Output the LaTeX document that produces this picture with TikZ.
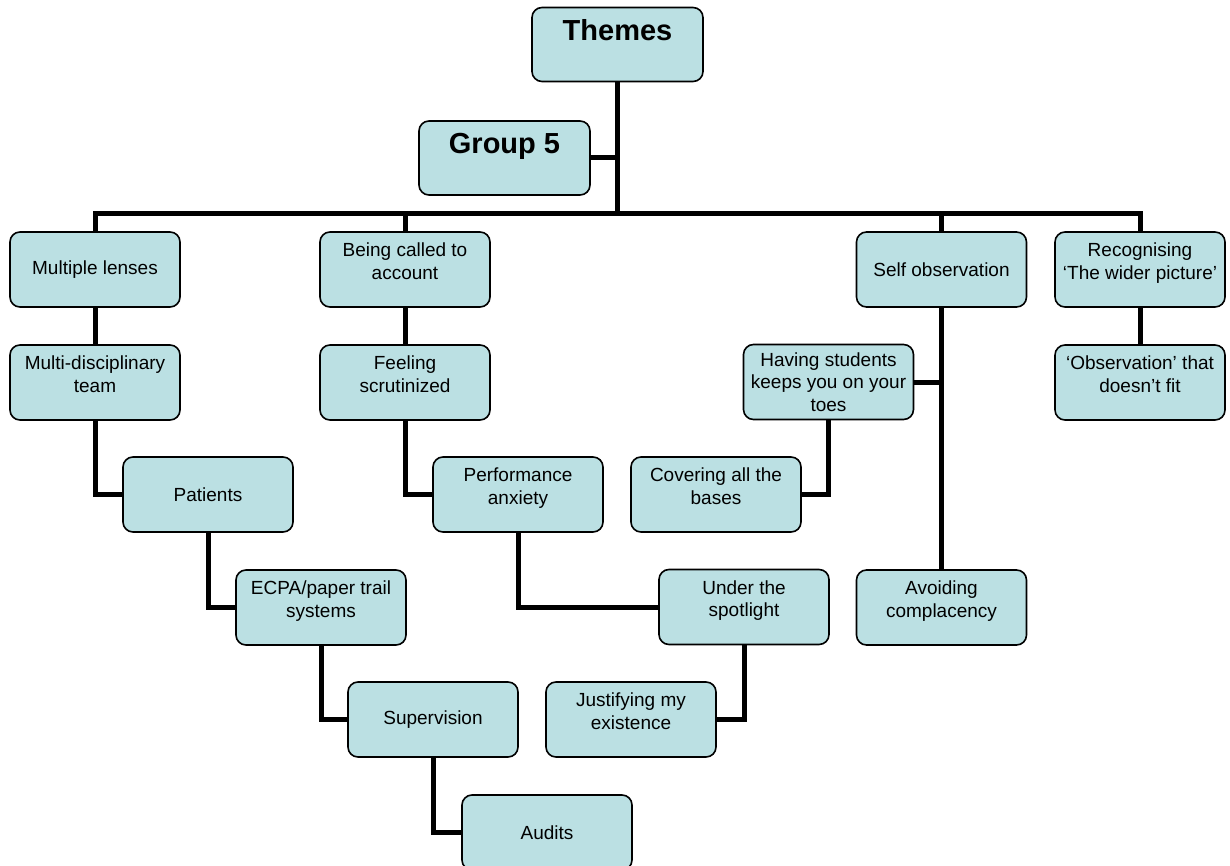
\documentclass[tikz,border=0pt]{standalone}
\usepackage{fontspec}
\setmainfont{Liberation Sans}
\definecolor{boxfill}{RGB}{187,224,227}
\pgfdeclarelayer{bg}
\pgfsetlayers{bg,main}
% empty last line that keeps two-line labels slightly above centre
\newcommand{\tailline}{\\[-12pt]\strut}
\begin{document}
\begin{tikzpicture}[x=1pt,y=-1pt,
  themebox/.style={draw=black, line width=1.6pt, fill=boxfill, rounded corners=10pt,
    inner sep=0pt, minimum width=170pt, minimum height=75pt, align=center,
    font=\fontsize{19}{22.5}\selectfont},
  headbox/.style={themebox, minimum width=171pt, minimum height=74pt, align=none,
    font=\fontsize{29}{34}\selectfont\bfseries},
  conn/.style={draw=black, line width=5pt, line join=miter}]
\clip (0,0) rectangle (1230,866);

% top of the tree
\node[headbox, text height=21pt, text depth=28pt] (themes) at (617.5,44.5) {Themes};
\node[headbox, text height=21pt, text depth=30pt] (g5) at (504.5,158) {Group 5};
\coordinate (bus) at (0,214);

% first level
\node[themebox] (ml) at (95,269.5) {Multiple lenses};
\node[themebox] (bc) at (405,269.5) {Being called to\\account\tailline};
\node[themebox] (so) at (941.5,269.5) {Self observation};
\node[themebox] (rw) at (1140,269.5) {Recognising\\‘The wider picture’\tailline};

% second level
\node[themebox] (mdt) at (95,382.5) {Multi-disciplinary\\team\tailline};
\node[themebox] (fs) at (405,382.5) {Feeling\\scrutinized\tailline};
\node[themebox] (hs) at (828.5,382) {Having students\\keeps you on your\\toes};
\node[themebox] (ob) at (1140,382.5) {‘Observation’ that\\doesn’t fit\tailline};

% lower levels
\node[themebox] (pat) at (208,494.5) {Patients};
\node[themebox] (pa) at (518,494.5) {Performance\\anxiety\tailline};
\node[themebox] (cb) at (716,494.5) {Covering all the\\bases\tailline};
\node[themebox] (ecpa) at (321,607.5) {ECPA/paper trail\\systems\tailline};
\node[themebox] (us) at (744,607) {Under the\\spotlight\tailline};
\node[themebox] (ac) at (941.5,607.5) {Avoiding\\complacency\tailline};
\node[themebox] (sup) at (433,719.5) {Supervision};
\node[themebox] (js) at (631,719.5) {Justifying my\\existence\tailline};
\node[themebox] (aud) at (547,832.5) {Audits};

\begin{pgfonlayer}{bg}
  \fill[white] (0,0) rectangle (1230,866);
  % trunk and bus
  \draw[conn] (themes.south) -- (themes.south |- bus);
  \draw[conn] (g5.east) -- (g5.east -| themes.south);
  \draw[conn] (ml.north) -- (ml.north |- bus) -- (rw.north |- bus) -- (rw.north);
  \draw[conn] (bc.north) -- (bc.north |- bus);
  \draw[conn] (so.north) -- (so.north |- bus);
  % branches
  \draw[conn] (ml) -- (mdt);
  \draw[conn] (mdt.south) |- (pat.west);
  \draw[conn] (pat.south) |- (ecpa.west);
  \draw[conn] (ecpa.south) |- (sup.west);
  \draw[conn] (sup.south) |- (aud.west);
  \draw[conn] (bc) -- (fs);
  \draw[conn] (fs.south) |- (pa.west);
  \draw[conn] (pa.south) |- (us.west);
  \draw[conn] (us.south) |- (js.east);
  \draw[conn] (so) -- (ac);
  \draw[conn] (hs.east) -- (hs.east -| so.south);
  \draw[conn] (cb.east) -| (hs.south);
  \draw[conn] (rw) -- (ob);
\end{pgfonlayer}
\end{tikzpicture}
\end{document}
